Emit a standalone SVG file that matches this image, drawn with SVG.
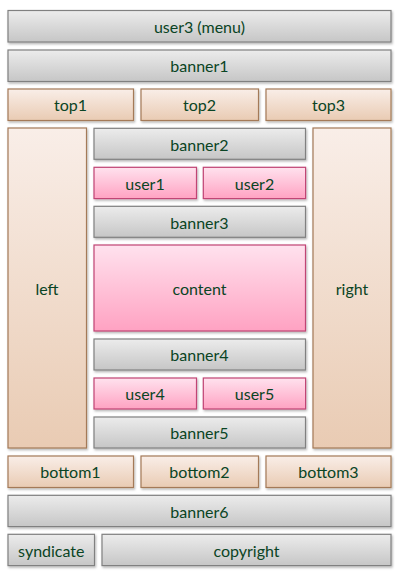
<svg xmlns="http://www.w3.org/2000/svg" width="400" height="572" viewBox="0 0 400 572">
<style>
text{font-family:"Lato","Open Sans","Liberation Sans",sans-serif;font-size:16px;fill:#0a4424;text-anchor:middle;dominant-baseline:central}
.g{fill:url(#gg);stroke:#808080;stroke-width:1.2;filter:url(#sh)}
.p{fill:url(#gp);stroke:#a47a58;stroke-width:1.2;filter:url(#sh)}
.k{fill:url(#gk);stroke:#c04474;stroke-width:1.2;filter:url(#sh)}
</style>
<defs>
<linearGradient id="gg" x1="0" y1="0" x2="0" y2="1"><stop offset="0" stop-color="#ececec"/><stop offset="1" stop-color="#c6c6c6"/></linearGradient>
<linearGradient id="gp" x1="0" y1="0" x2="0" y2="1"><stop offset="0" stop-color="#f9eee8"/><stop offset="1" stop-color="#e9cbb3"/></linearGradient>
<linearGradient id="gk" x1="0" y1="0" x2="0" y2="1"><stop offset="0" stop-color="#ffe2ee"/><stop offset="1" stop-color="#ffa2c2"/></linearGradient>
<filter id="sh" x="-10%" y="-10%" width="120%" height="130%"><feDropShadow dx="1" dy="1.5" stdDeviation="1.2" flood-color="#000" flood-opacity="0.3"/></filter>
</defs>
<g id="user3"><rect class="g" x="8" y="10.5" width="383" height="31.5"/><text x="199.5" y="26">user3 (menu)</text></g>
<g id="banner1"><rect class="g" x="8" y="50" width="383" height="31.5"/><text x="199.5" y="65.5">banner1</text></g>
<g id="top1"><rect class="p" x="8" y="89" width="125.5" height="31.5"/><text x="70.5" y="104.5">top1</text></g>
<g id="top2"><rect class="p" x="141" y="89" width="117.5" height="31.5"/><text x="199.5" y="104.5">top2</text></g>
<g id="top3"><rect class="p" x="266" y="89" width="125" height="31.5"/><text x="328.5" y="104.5">top3</text></g>
<g id="left"><rect class="p" x="8" y="128" width="78.5" height="320"/><text x="47" y="288">left</text></g>
<g id="right"><rect class="p" x="313" y="128" width="78" height="320"/><text x="352" y="288">right</text></g>
<g id="banner2"><rect class="g" x="94" y="128.3" width="211.5" height="31"/><text x="199.5" y="144">banner2</text></g>
<g id="user1"><rect class="k" x="94" y="167.3" width="102.5" height="31.3"/><text x="145" y="183">user1</text></g>
<g id="user2"><rect class="k" x="203.3" y="167.3" width="102.3" height="31.3"/><text x="254.5" y="183">user2</text></g>
<g id="banner3"><rect class="g" x="94" y="206.3" width="211.5" height="31"/><text x="199.5" y="222">banner3</text></g>
<g id="content"><rect class="k" x="94" y="245" width="211.5" height="86"/><text x="199.5" y="288">content</text></g>
<g id="banner4"><rect class="g" x="94" y="339" width="211.5" height="31"/><text x="199.5" y="354.5">banner4</text></g>
<g id="user4"><rect class="k" x="94" y="378" width="102.5" height="31"/><text x="145" y="393.5">user4</text></g>
<g id="user5"><rect class="k" x="203.3" y="378" width="102.3" height="31"/><text x="254.5" y="393.5">user5</text></g>
<g id="banner5"><rect class="g" x="94" y="417" width="211.5" height="31"/><text x="199.5" y="432.5">banner5</text></g>
<g id="bottom1"><rect class="p" x="8" y="456" width="125.5" height="31.5"/><text x="70.5" y="471.5">bottom1</text></g>
<g id="bottom2"><rect class="p" x="141" y="456" width="117.5" height="31.5"/><text x="199.5" y="471.5">bottom2</text></g>
<g id="bottom3"><rect class="p" x="266" y="456" width="125" height="31.5"/><text x="328.5" y="471.5">bottom3</text></g>
<g id="banner6"><rect class="g" x="8" y="495.3" width="383" height="31.3"/><text x="199.5" y="511">banner6</text></g>
<g id="syndicate"><rect class="g" x="8" y="534.3" width="86.5" height="31.3"/><text x="51.3" y="550">syndicate</text></g>
<g id="copyright"><rect class="g" x="102" y="534.3" width="289" height="31.3"/><text x="246.5" y="550">copyright</text></g>
<g id="connectors"/>
</svg>
